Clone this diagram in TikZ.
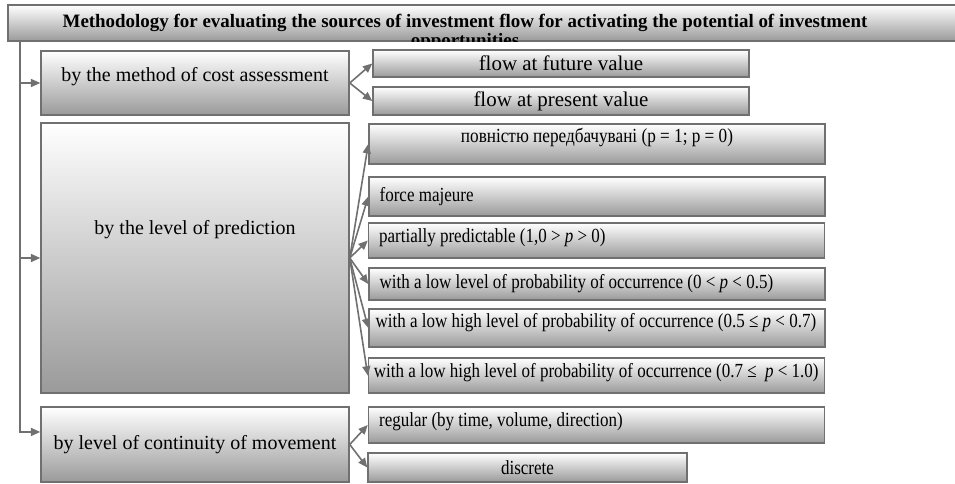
\documentclass[tikz,border=0pt]{standalone}
\usepackage{fontspec}
\usepackage{graphicx}
\setmainfont{Liberation Serif}
\newfontfamily\narrowserif[FakeStretch=0.85]{Liberation Serif}
\usepackage{tikz}
\usetikzlibrary{positioning, arrows.meta, shadings}

\definecolor{edgegray}{HTML}{707070}
\definecolor{shadegray}{HTML}{9A9A9A}

\begin{document}
\begin{tikzpicture}[
    x=0.75pt, y=-0.75pt,
    > = {Triangle[length=7pt, width=6pt]},
    font=\fontsize{15}{18}\selectfont,
    box/.style={rectangle, draw=edgegray, line width=1.1pt, top color=white, bottom color=shadegray, inner sep=0pt},
    group/.style={box, minimum width=231pt, minimum height=#1, align=flush center},
    leaf/.style={box, minimum height=#1, inner xsep=8pt, text width=326pt, align=flush left,
        font=\fontsize{15}{18}\narrowserif},
    link/.style={->, color=edgegray, line width=1.2pt}
]
\useasboundingbox (0,0) rectangle (955,484);

% 0. TITLE
\node[box, minimum width=714pt, minimum height=27pt] (title) at (484,23) {};
\begin{scope}
    \clip (title.south west) rectangle (title.north east);
    \node[anchor=north, align=flush center, inner sep=0pt, font=\fontsize{14.2}{14.2}\selectfont\bfseries] (heading) at (465,14)
        {Methodology for evaluating the sources of investment flow for activating the potential of investment\\opportunities};
\end{scope}
\coordinate (trunk) at (20,41);

% 1. BY THE METHOD OF COST ASSESSMENT
\begin{scope}
    \node[group=48pt, text depth=12.3pt] (c1) at (195,83) {by the method of cost assessment};
    \node[leaf=20.25pt, text width=266pt, align=flush center, font=\fontsize{15.7}{18}\rmfamily] (c1a) at (561,63.5) {flow at future value};
    \node[leaf=21pt, text width=266pt, align=flush center, font=\fontsize{15.7}{18}\rmfamily] (c1b) at (561,101) {flow at present value};

    \draw[link] (trunk |- c1.west) -- (c1.west);
    \draw[link] (c1.east) -- (c1a.west);
    \draw[link] (c1.east) -- (c1b.west);
\end{scope}

% 2. BY THE LEVEL OF PREDICTION
\begin{scope}
    \node[group=202.5pt, text depth=45.3pt] (p1) at (195,258) {by the level of prediction};
    \node[leaf=30pt, align=flush center, text depth=12.3pt] (p1a) at (597,144)
        {\scalebox{0.86}[1]{\rmfamily повністю передбачувані (p = 1; p = 0)}};
    \node[leaf=29.25pt] (p1b) at (597,196.5) {force majeure};
    \node[leaf=26.25pt, text depth=7.8pt] (p1c) at (596.5,240.5) {partially predictable (1,0 > \textit{p} > 0)};
    \node[leaf=24pt] (p1d) at (597,284) {\mbox{with a low level of probability of occurrence (0 < \textit{p} < 0.5)}};
    \node[leaf=28.5pt, text depth=10.8pt, inner xsep=5pt, text width=332pt] (p1e) at (597,328)
        {\mbox{with a low high level of probability of occurrence (0.5 ≤ \textit{p} < 0.7)}};
    \node[leaf=26.25pt, text depth=7.1pt, inner xsep=4pt, text width=334pt] (p1f) at (596.5,375.5)
        {\mbox{with a low high level of probability of occurrence (0.7 ≤~ \textit{p} < 1.0)}};

    \draw[link] (trunk |- p1.west) -- (p1.west);
    \foreach \leafname in {p1a, p1b, p1c, p1d, p1e, p1f}
        \draw[link] (p1.east) -- (\leafname.west);
\end{scope}

% 3. BY LEVEL OF CONTINUITY OF MOVEMENT
\begin{scope}
    \node[group=56.25pt] (m1) at (195,444.5) {by level of continuity of movement};
    \node[leaf=27pt, text depth=7.8pt] (m1a) at (596.5,425) {regular (by time, volume, direction)};
    \node[leaf=21.75pt, text width=223.25pt, align=flush center] (m1b) at (527.5,467.5) {discrete};

    \coordinate (m1in) at ([yshift=9.4pt]m1.west);
    \draw[link] (trunk) |- (m1in);
    \draw[link] (m1.east) -- (m1a.west);
    \draw[link] (m1.east) -- (m1b.west);
\end{scope}

\end{tikzpicture}
\end{document}
